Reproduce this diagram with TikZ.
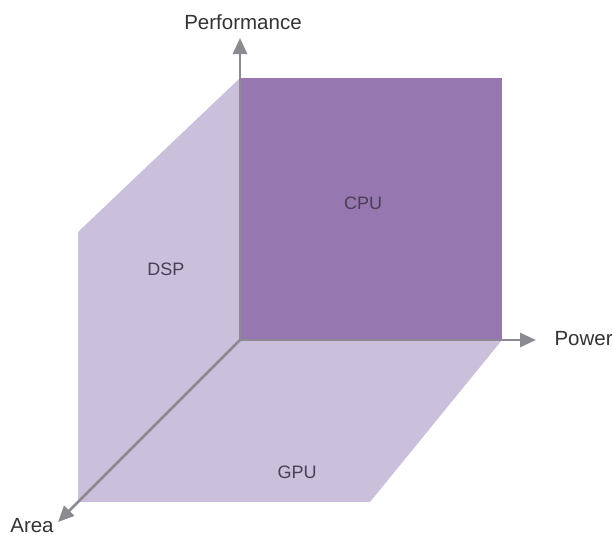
\documentclass[tikz,border=0pt]{standalone}
\usepackage{fontspec}
\setmainfont{Liberation Sans}
\usetikzlibrary{arrows.meta}
\definecolor{lightp}{HTML}{CBC0DC}
\definecolor{darkp}{HTML}{9677B0}
\definecolor{axisg}{HTML}{8C8A90}
\definecolor{labtxt}{HTML}{4A3F55}
\begin{document}
\begin{tikzpicture}[x=1pt,y=-1pt,
  axis/.style={draw=axisg,line width=2.8pt,-{Triangle[length=16pt,width=14pt]}},
  axlabel/.style={font=\fontsize{20.5}{24}\selectfont,text=black!80},
  panellabel/.style={font=\fontsize{18}{21}\selectfont,text=labtxt}]
\useasboundingbox (0,0) rectangle (612,538);
\coordinate (O) at (240,340);
\coordinate (Ptip) at (240,38);
\coordinate (Wtip) at (536,340);
\coordinate (Atip) at (58,522);
% light panels (DSP + GPU)
\fill[lightp] (240,78) -- (78,232) -- (78,502) -- (370,502) -- (502,340) -- (240,340) -- cycle;
% CPU panel
\fill[darkp] (240,78) rectangle (502,340);
% axes
\draw[axis] (O) -- (Ptip);
\draw[axis] (O) -- (Wtip);
\draw[axis] (O) -- (Atip);
% labels
\node[axlabel] (perf) at (243,22) {Performance};
\node[axlabel,anchor=west] (power) at (551,339) {Power};
\node[axlabel] (area) at (32,526) {Area};
\node[panellabel] (cpu) at (363,203) {CPU};
\node[panellabel] (dsp) at (166,269) {DSP};
\node[panellabel] (gpu) at (297,472) {GPU};
\end{tikzpicture}
\end{document}
